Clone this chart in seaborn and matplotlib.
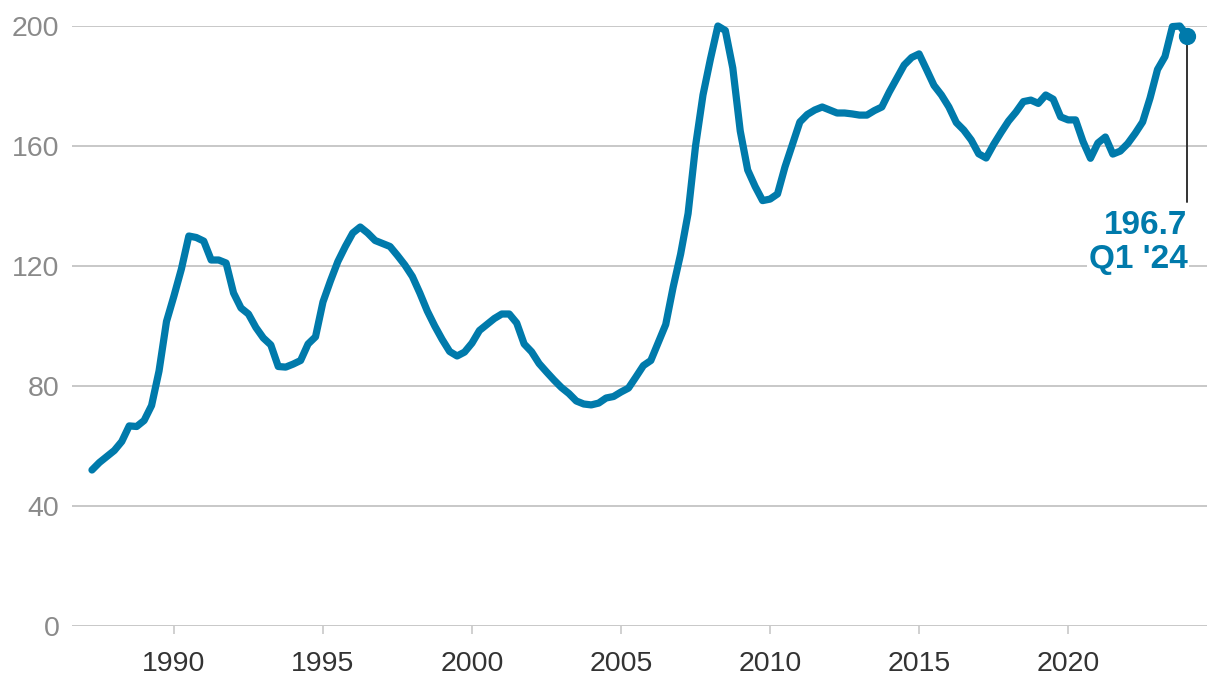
import numpy as np
import pandas as pd
import seaborn as sns
import matplotlib.pyplot as plt

# quarterly index values, Q2 1987 .. Q1 2024
start_year = 1987.25
index_values = [
    52.0, 54.5, 56.5, 58.5, 61.5, 66.7, 66.5, 68.5, 73.5, 85.0,
    101.5, 110.0, 119.0, 130.0, 129.5, 128.3, 122.0, 122.0, 121.0, 111.0,
    106.0, 104.0, 99.5, 96.0, 93.7, 86.5, 86.3, 87.3, 88.5, 94.0,
    96.4, 108.0, 115.0, 121.5, 126.5, 131.0, 133.0, 131.0, 128.5, 127.5,
    126.5, 123.5, 120.3, 116.5, 111.0, 105.0, 100.0, 95.5, 91.5, 90.0,
    91.3, 94.3, 98.5, 100.5, 102.5, 104.0, 104.0, 101.0, 94.0, 91.4,
    87.5, 84.7, 82.0, 79.5, 77.5, 75.0, 74.0, 73.7, 74.3, 76.0,
    76.5, 78.0, 79.3, 83.0, 86.8, 88.5, 94.5, 100.5, 113.0, 124.0,
    137.5, 160.0, 177.0, 189.0, 200.0, 198.5, 186.0, 165.0, 152.0, 146.5,
    141.8, 142.3, 144.0, 153.0, 160.5, 168.0, 170.5, 172.0, 173.0, 172.0,
    171.0, 171.0, 170.7, 170.3, 170.3, 171.8, 173.0, 178.0, 182.5, 187.0,
    189.5, 190.7, 185.5, 180.2, 177.0, 173.0, 167.8, 165.3, 162.0, 157.4,
    156.0, 160.5, 164.5, 168.3, 171.3, 174.8, 175.3, 174.2, 177.0, 175.6,
    169.7, 168.7, 168.7, 161.5, 155.9, 161.0, 163.0, 157.3, 158.3, 160.8,
    164.2, 168.0, 176.0, 185.5, 189.8, 199.8, 200.0, 196.7,
]
x_ticks = [1990, 1995, 2000, 2005, 2010, 2015, 2020]
y_ticks = [0, 40, 80, 120, 160, 200]
last_label = "196.7\nQ1 '24"

BLUE = "#007AAB"

df = pd.DataFrame({"index": index_values})
df["year"] = start_year + 0.25 * np.arange(len(df))

sns.set_theme(style="white")
plt.rcParams["font.family"] = ["Liberation Sans", "DejaVu Sans"]

fig = plt.figure(figsize=(12.2, 6.9), dpi=100)
ax = fig.add_axes([72 / 1220, 64 / 690, 1135 / 1220, 600 / 690])

sns.lineplot(data=df, x="year", y="index", ax=ax, color=BLUE, linewidth=5.2,
             solid_joinstyle="round", solid_capstyle="round", clip_on=False, zorder=3)

last = df.iloc[-1]
ax.scatter([last["year"]], [last["index"]], s=130, color=BLUE, zorder=4, clip_on=False)
ax.plot([last["year"], last["year"]], [last["index"], 141.5], color="#333333",
        linewidth=1.4, zorder=2)
ax.text(last["year"], 138.5, last_label, ha="right", va="top", color=BLUE,
        fontsize=24, fontweight="bold", linespacing=1.1, zorder=5,
        bbox=dict(facecolor="white", edgecolor="none", pad=1))

ax.set_xlim(1986.58, 2024.66)
ax.set_ylim(0, 200)
ax.set_xticks(x_ticks)
ax.set_yticks(y_ticks)
ax.set_xlabel("")
ax.set_ylabel("")
ax.grid(axis="y", color="#c8c8c8", linewidth=1.4)
ax.grid(axis="x", visible=False)
ax.set_axisbelow(True)
for s in ax.spines.values():
    s.set_visible(False)

ax.tick_params(axis="x", length=6, width=1.2, color="#c8c8c8", pad=12,
               labelsize=20.5, labelcolor="#333333", bottom=True)
ax.tick_params(axis="y", length=0, pad=9, labelsize=20.5, labelcolor="#8a8a8a")

fig.savefig("out.png", dpi=100)
